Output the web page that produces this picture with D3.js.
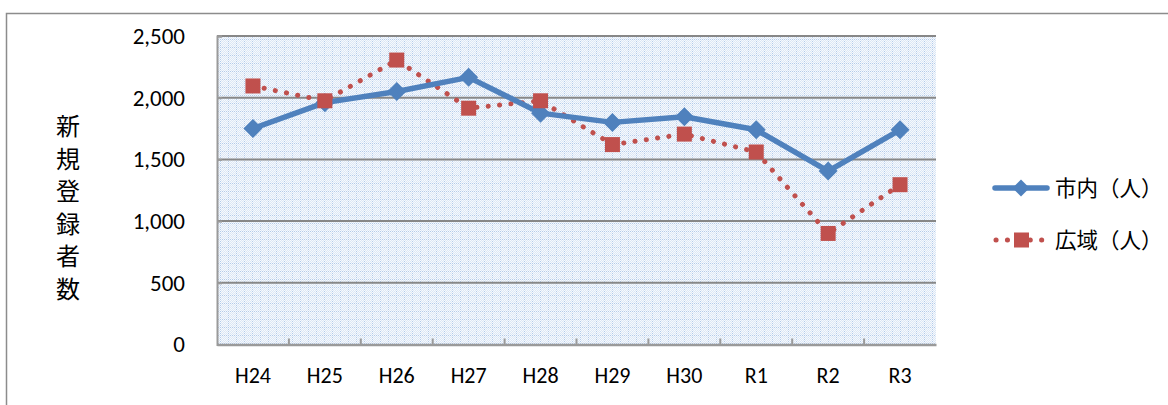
<!DOCTYPE html>
<html><head><meta charset="utf-8">
<script src="https://cdn.jsdelivr.net/npm/d3@7"></script>
<style>
html,body{margin:0;padding:0;background:#fff;}
svg{display:block;}
</style></head>
<body>
<svg id="chart" width="1168" height="405"></svg>
<script>
const categories = ["H24","H25","H26","H27","H28","H29","H30","R1","R2","R3"];
const cityValues = [1750,1960,2050,2165,1875,1800,1845,1740,1405,1740];
const wideValues = [2095,1975,2305,1915,1975,1620,1705,1560,900,1295];
const yTicks = [0,500,1000,1500,2000,2500];
const seriesNames = ["市内（人）","広域（人）"];
const axisTitle = "新規登録者数";

const svg = d3.select("#chart");
const W = 1168, H = 405;
const plot = {left:217, right:936, top:36, bottom:344.5};
const blue = "#4f81bd", red = "#c0504d";
const fontLatin = "Carlito, Lato, 'Open Sans', sans-serif";
const fontCJK = "'Noto Sans CJK JP', sans-serif";

// outer frame
svg.append("rect").attr("x",6.5).attr("y",13.5).attr("width",W).attr("height",H)
  .attr("fill","#fff").attr("stroke","#8c8c8c").attr("stroke-width",1.5);

// pattern
const defs = svg.append("defs");
const pat = defs.append("pattern").attr("id","dots").attr("patternUnits","userSpaceOnUse")
  .attr("width",8).attr("height",8).attr("x",plot.left).attr("y",plot.top);
pat.append("rect").attr("width",8).attr("height",8).attr("fill","#f6f9fd");
for (let i=0;i<8;i++) for (let j=0;j<8;j++) {
  const onLine = (i===3 || j===3);
  if ((i+j)%2===0) pat.append("rect").attr("x",i).attr("y",j).attr("width",1).attr("height",1)
    .attr("fill", onLine ? "#b3cbea" : "#dce7f5");
}
const x = d3.scaleBand().domain(categories).range([plot.left, plot.right]);
const y = d3.scaleLinear().domain([0,2500]).range([plot.bottom, plot.top]);
const cx = d => x(d) + x.bandwidth()/2;

svg.append("rect").attr("x",plot.left).attr("y",plot.top)
  .attr("width",plot.right-plot.left).attr("height",plot.bottom-plot.top)
  .attr("fill","url(#dots)");

// gridlines
svg.append("g").selectAll("line").data(yTicks.filter(d=>d>0)).join("line")
  .attr("x1",plot.left).attr("x2",plot.right)
  .attr("y1",d=>y(d)).attr("y2",d=>y(d))
  .attr("stroke","#878787").attr("stroke-width",2);

// axes
const yAxis = d3.axisLeft(y).tickValues(yTicks).tickSize(-5).tickPadding(32)
  .tickFormat(d3.format(","));
const gy = svg.append("g").attr("transform",`translate(${plot.left},0)`).call(yAxis);
gy.attr("font-size",null);
gy.select(".domain").attr("stroke","#9a9a9a").attr("stroke-width",2);
gy.selectAll(".tick line").attr("stroke","#9a9a9a").attr("stroke-width",2);
gy.selectAll("text").attr("font-family",fontLatin).attr("font-size",23).attr("fill","#000");

const xAxis = d3.axisBottom(x).tickSize(0).tickPadding(23);
const gx = svg.append("g").attr("transform",`translate(0,${plot.bottom})`).call(xAxis);
gx.attr("font-size",null);
gx.select(".domain").attr("stroke","#9a9a9a").attr("stroke-width",2.5);
gx.selectAll("text").attr("font-family",fontLatin).attr("font-size",22).attr("fill","#000");
// category boundary ticks (inward)
svg.append("g").selectAll("line").data(categories.slice(1)).join("line")
  .attr("x1",d=>x(d)).attr("x2",d=>x(d))
  .attr("y1",plot.bottom).attr("y2",plot.bottom-6)
  .attr("stroke","#9a9a9a").attr("stroke-width",2);

// axis title (vertical stacked)
const title = svg.append("text").attr("font-family",fontCJK).attr("font-size",24).attr("fill","#000")
  .attr("text-anchor","middle");
Array.from(axisTitle).forEach((ch,i)=>{
  title.append("tspan").attr("x",68).attr("y",135 + i*32.5).text(ch);
});

// series lines
const line = d3.line().x((d,i)=>cx(categories[i])).y(d=>y(d));
svg.append("path").datum(wideValues).attr("d",line).attr("fill","none")
  .attr("stroke",red).attr("stroke-width",5).attr("stroke-linecap","round")
  .attr("stroke-dasharray","0.1 11.3");
svg.append("path").datum(cityValues).attr("d",line).attr("fill","none")
  .attr("stroke",blue).attr("stroke-width",5.5).attr("stroke-linejoin","round");

const diamond = (g,px,py,s)=> g.append("path")
  .attr("d",`M${px},${py-s}L${px+s},${py}L${px},${py+s}L${px-s},${py}Z`).attr("fill",blue);
// city markers
const gm = svg.append("g");
cityValues.forEach((v,i)=>diamond(gm,cx(categories[i]),y(v),9.5));
// wide markers
svg.append("g").selectAll("rect").data(wideValues).join("rect")
  .attr("x",(d,i)=>cx(categories[i])-7.5).attr("y",d=>y(d)-7.5)
  .attr("width",15).attr("height",15).attr("fill",red);

// legend
const lg = svg.append("g");
lg.append("line").attr("x1",995).attr("x2",1047).attr("y1",188).attr("y2",188)
  .attr("stroke",blue).attr("stroke-width",5.5).attr("stroke-linecap","round");
diamond(lg,1021,188,8.5);
lg.append("line").attr("x1",996).attr("x2",1047).attr("y1",240).attr("y2",240)
  .attr("stroke",red).attr("stroke-width",5).attr("stroke-linecap","round")
  .attr("stroke-dasharray","0.1 11.3");
lg.append("rect").attr("x",1014).attr("y",232.5).attr("width",15).attr("height",15).attr("fill",red);
lg.selectAll("text").data(seriesNames).join("text")
  .attr("x",1055).attr("y",(d,i)=>188+i*52).attr("dy","0.36em")
  .attr("font-family",fontCJK).attr("font-size",21.5).attr("fill","#000").text(d=>d);
</script>
</body></html>
